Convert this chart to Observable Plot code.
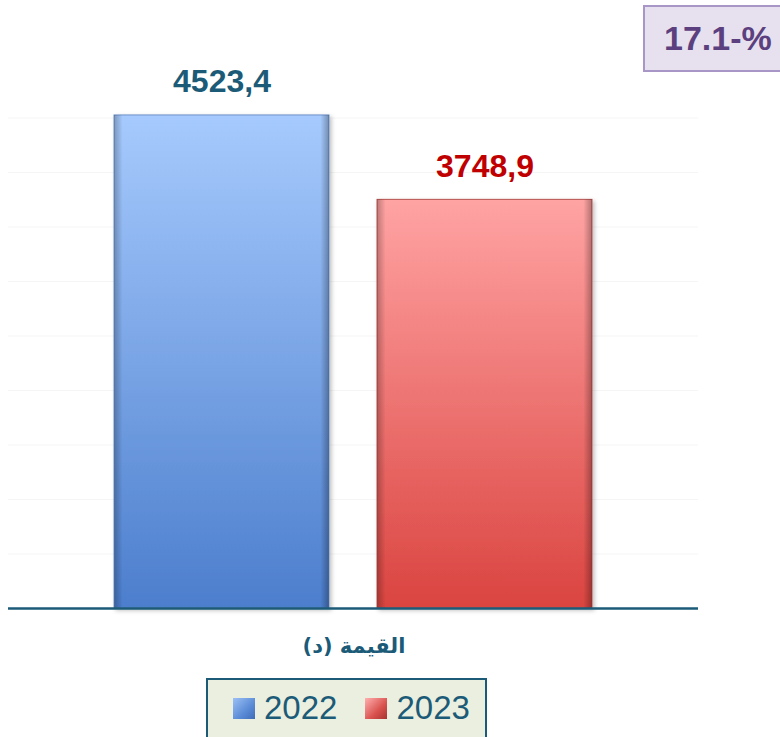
<!DOCTYPE html>
<html>
<head>
<meta charset="utf-8">
<script src="https://cdn.jsdelivr.net/npm/d3@7"></script>
<script src="https://cdn.jsdelivr.net/npm/@observablehq/plot@0.6"></script>
<style>
  body { margin: 0; background: #fff; font-family: "Liberation Sans", Arial, sans-serif; }
  #wrap { position: relative; width: 780px; height: 737px; overflow: hidden; }
  #pct { position: absolute; left: 643px; top: 5px; width: 137px; height: 67px; box-sizing: border-box;
         background: #e7e1ef; border: 2px solid #a896c6; border-right: none;
         color: #5b3f7e; font: bold 34px "Liberation Sans", Arial, sans-serif; padding-left: 19px;
         display: flex; align-items: center; justify-content: flex-start; direction: ltr; }
  #xtitle { position: absolute; left: 0; width: 708px; top: 634px; text-align: center;
            font: bold 21px "DejaVu Sans", "Noto Sans", sans-serif; color: #1b5b78; direction: rtl; }
  #legend { position: absolute; left: 206px; top: 678px; width: 281px; height: 70px; box-sizing: border-box;
            background: #ebefdf; border: 2px solid #1b5b78; display: flex; align-items: flex-start; padding-top: 9px; }
  .item { display: flex; align-items: center; color: #1b5b78; font: 33px/38px "Liberation Sans", Arial, sans-serif; }
  .sw { width: 22px; height: 21px; margin-right: 9px; }
</style>
</head>
<body>
<div id="wrap">
  <div id="chart"></div>
  <div id="pct"></div>
  <div id="xtitle"></div>
  <div id="legend"></div>
</div>
<script>
const years = ["2022", "2023"];
const values = [4523.4, 3748.9];
const labelColors = ["#1b5b78", "#c00000"];
const gradIds = ["gBlue", "gRed"];
const changeLabel = "17.1-%";
const axisTitle = "القيمة (د)";
const gridTicks = [500, 1000, 1500, 2000, 2500, 3000, 3500, 4000, 4500];

const data = years.map((y, i) => ({year: y, value: values[i], color: labelColors[i], grad: gradIds[i],
  label: d3.format(".1f")(values[i]).replace(".", ",")}));

function defs() {
  const d = d3.create("svg:defs");
  const mk = (id, top, bottom) => {
    const g = d.append("linearGradient").attr("id", id).attr("x1", 0).attr("y1", 0).attr("x2", 0).attr("y2", 1);
    g.append("stop").attr("offset", "0%").attr("stop-color", top);
    g.append("stop").attr("offset", "100%").attr("stop-color", bottom);
  };
  mk("gBlue", "#a6cafd", "#4c7ecd");
  mk("gRed", "#ffa3a3", "#da4440");
  const h = d.append("linearGradient").attr("id", "gEdge").attr("x1", 0).attr("y1", 0).attr("x2", 1).attr("y2", 0);
  h.append("stop").attr("offset", "0%").attr("stop-color", "#000").attr("stop-opacity", 0.25);
  h.append("stop").attr("offset", "4%").attr("stop-color", "#000").attr("stop-opacity", 0);
  h.append("stop").attr("offset", "96%").attr("stop-color", "#000").attr("stop-opacity", 0);
  h.append("stop").attr("offset", "100%").attr("stop-color", "#000").attr("stop-opacity", 0.3);
  const f = d.append("filter").attr("id", "shadow").attr("x", "-10%").attr("y", "-10%").attr("width", "130%").attr("height", "120%");
  f.append("feDropShadow").attr("dx", 2).attr("dy", 2).attr("stdDeviation", 2).attr("flood-color", "#000").attr("flood-opacity", 0.25);
  return d.node();
}

const chart = Plot.plot({
  width: 780,
  height: 630,
  marginTop: 63,
  marginBottom: 22,
  marginLeft: 8,
  marginRight: 82,
  x: {domain: years, paddingInner: 0.183, paddingOuter: 0.402, axis: null},
  y: {domain: [0, 5000], axis: null},
  marks: [
    defs,
    Plot.gridY(gridTicks, {stroke: "#f5f5f5", strokeOpacity: 1}),
    Plot.barY(data, {x: "year", y: "value", fill: d => `url(#${d.grad})`,
      stroke: d => d.grad === "gBlue" ? "#6f93c9" : "#b85350", strokeWidth: 1}),
    Plot.barY(data, {x: "year", y: "value", fill: "url(#gEdge)"}),
    Plot.text(data, {x: "year", y: "value", text: "label", dy: -33.5, fill: "color",
      fontSize: 32, fontWeight: "bold", fontFamily: "Liberation Sans, Arial, sans-serif"}),
    Plot.ruleY([0], {stroke: "#1b5b78", strokeWidth: 2.5})
  ]
});
chart.querySelectorAll("g[aria-label='bar']")[0]?.setAttribute("filter", "url(#shadow)");
document.getElementById("chart").appendChild(chart);

document.getElementById("pct").textContent = changeLabel;
document.getElementById("xtitle").textContent = axisTitle;

const legend = document.getElementById("legend");
const swatchBg = {
  gBlue: "linear-gradient(135deg, #9cc0f5 0%, #5a8bd6 60%, #3e6db8 100%)",
  gRed: "linear-gradient(135deg, #ffb0b0 0%, #d9524e 60%, #a83230 100%)"
};
data.forEach((d, i) => {
  const it = document.createElement("div");
  it.className = "item";
  it.style.marginLeft = i === 0 ? "25px" : "28px";
  const sw = document.createElement("div");
  sw.className = "sw";
  sw.style.background = swatchBg[d.grad];
  const t = document.createElement("span");
  t.textContent = d.year;
  it.appendChild(sw); it.appendChild(t);
  legend.appendChild(it);
});
</script>
</body>
</html>
